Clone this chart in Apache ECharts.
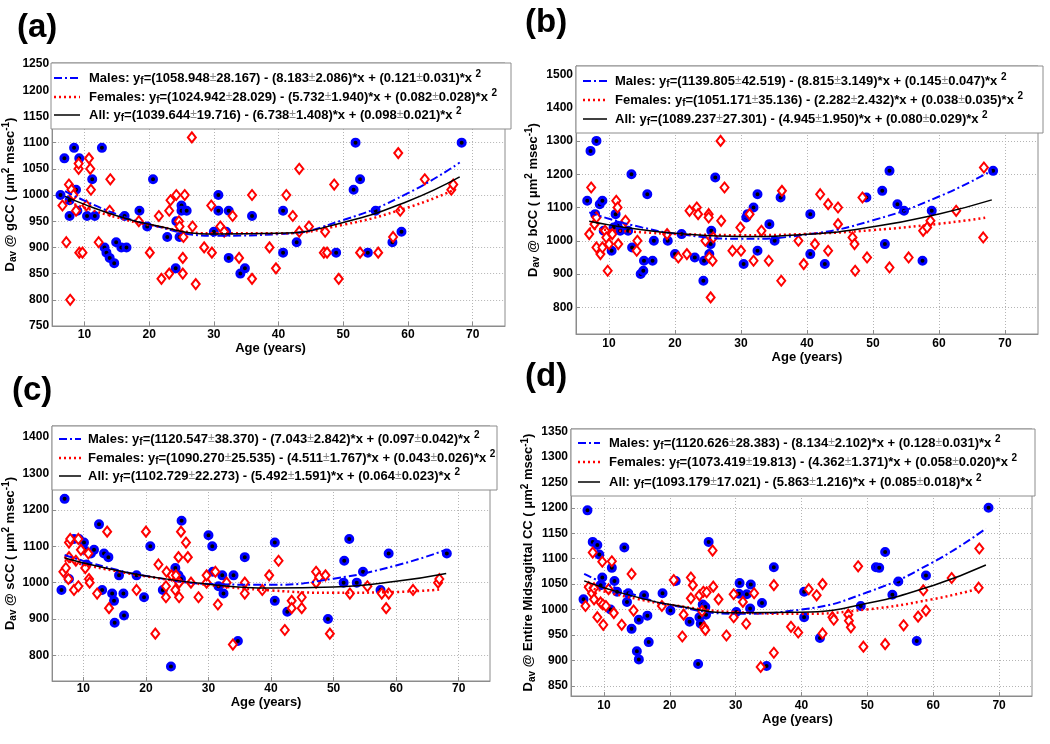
<!DOCTYPE html>
<html>
<head>
<meta charset="utf-8">
<script src="https://cdn.jsdelivr.net/npm/echarts@6/dist/echarts.min.js"></script>
<style>html,body{margin:0;background:#fff}#main{width:1050px;height:744px}</style>
</head>
<body>
<div id="main"></div>
<script>
// ages / diffusivity values, [age, Dav]
const gccMales = [[6.3,1000],[6.9,1070],[8.4,1090],[9.2,1070],[8.7,1010],[7.7,990],[7.7,960],[8.9,970],[10.4,960],[11.6,960],[11.2,1030],[12.7,1090],[13.1,900],[13.4,890],[13.9,880],[14.6,870],[14.9,910],[15.7,900],[16.5,900],[16.2,960],[18.5,970],[19.7,940],[20.6,1030],[22.8,920],[24.1,860],[24.2,950],[25.0,980],[25.0,970],[25.8,970],[24.7,920],[30.0,930],[30.7,1000],[30.7,970],[31.9,930],[32.3,880],[32.3,970],[34.1,850],[34.8,860],[35.9,960],[40.7,970],[40.7,890],[42.8,910],[51.9,1100],[51.6,1010],[52.6,1030],[48.9,890],[53.8,890],[55.0,970],[57.6,910],[59.0,930],[68.3,1100]];
const gccFemales = [[6.6,980],[7.2,910],[7.6,1020],[8.0,1010],[8.3,1000],[7.8,800],[8.7,970],[9.1,1050],[9.1,1060],[9.2,890],[9.7,890],[10.3,980],[10.7,1070],[10.9,1050],[11.0,1010],[12.2,910],[14.0,1030],[13.9,970],[18.4,950],[20.1,890],[21.5,960],[21.9,840],[23.1,850],[23.1,970],[23.3,990],[24.2,1000],[24.6,950],[24.7,940],[25.2,880],[25.2,850],[25.3,920],[25.5,1000],[26.6,1110],[26.7,940],[27.2,830],[28.5,900],[29.7,890],[29.6,980],[31.0,940],[31.6,930],[32.9,960],[33.9,880],[35.9,1000],[35.9,840],[38.6,900],[39.6,860],[41.2,1000],[42.2,960],[43.2,1050],[43.2,930],[44.7,940],[47.2,930],[47.0,890],[47.5,890],[48.6,1020],[49.3,840],[52.6,890],[55.4,890],[57.7,920],[58.5,1080],[58.8,970],[62.6,1030],[66.7,1010],[67.0,1020]];

const bccMales = [[6.7,1120],[7.2,1270],[8.1,1300],[7.9,1080],[8.6,1110],[9.0,1120],[9.2,1030],[10.4,970],[11.0,1080],[11.3,1045],[11.7,1030],[10.7,1040],[12.9,1030],[13.4,1200],[13.5,980],[14.8,900],[15.2,910],[15.3,940],[15.8,1140],[16.6,940],[16.8,1000],[18.9,1000],[21.0,1020],[20.0,960],[23.0,950],[24.3,880],[24.4,940],[25.2,960],[25.4,990],[25.5,1030],[26.1,1190],[30.4,930],[30.8,1070],[31.0,1080],[31.9,1100],[32.5,1140],[32.5,970],[34.3,1050],[35.1,1000],[36.0,1130],[40.5,1080],[40.5,960],[42.7,930],[49.0,1130],[51.4,1150],[52.5,1210],[51.8,990],[53.7,1110],[54.7,1090],[57.5,940],[58.9,1090],[68.2,1210]];
const bccFemales = [[7.3,1160],[7.0,1020],[7.8,1050],[8.1,1070],[8.1,980],[8.7,960],[9.0,980],[9.4,1030],[9.8,910],[9.6,1010],[10.0,990],[10.5,1020],[11.1,1120],[11.3,1100],[11.4,990],[12.5,1060],[14.3,1000],[14.2,970],[18.8,1020],[20.5,950],[21.8,960],[22.2,1090],[23.3,1100],[23.5,1080],[25.1,1080],[25.1,1070],[24.6,1000],[25.2,950],[25.7,940],[25.4,830],[25.8,1010],[26.9,1300],[27.0,1060],[27.5,1160],[28.7,970],[30.0,970],[29.9,1040],[31.3,1080],[31.9,940],[33.1,1030],[34.2,940],[36.2,1150],[36.1,880],[38.7,1000],[39.5,930],[41.2,990],[42.0,1140],[43.2,1110],[43.2,970],[44.7,1100],[44.7,1050],[46.9,1010],[47.2,990],[47.3,910],[48.4,1130],[49.1,950],[52.5,920],[55.4,950],[57.6,1030],[58.2,1040],[58.7,1060],[62.6,1090],[66.8,1220],[66.7,1010]];

const sccMales = [[6.5,980],[7.0,1230],[7.7,1010],[8.5,1120],[9.3,1120],[10.1,1110],[10.1,1090],[10.5,1050],[11.2,1080],[11.7,1090],[12.5,1160],[13.0,980],[13.3,1080],[14.0,1070],[14.6,970],[14.9,950],[15.0,890],[15.7,1020],[16.4,970],[16.5,910],[18.5,1020],[19.7,960],[20.7,1100],[22.7,980],[24.0,770],[24.7,1040],[25.2,1020],[25.6,1010],[25.7,1170],[30.0,1130],[30.6,1100],[30.7,1030],[31.6,990],[32.2,1020],[32.4,970],[34.0,1020],[34.7,840],[35.8,1070],[40.6,1110],[40.6,950],[42.6,920],[49.1,900],[51.6,1000],[51.7,1060],[52.5,1120],[53.7,1000],[54.7,1030],[57.5,980],[58.8,1080],[68.1,1080]];
const sccFemales = [[6.8,1030],[7.2,1040],[7.6,1010],[7.7,1070],[7.7,1110],[7.9,1120],[8.5,980],[8.8,1060],[9.2,1120],[9.2,990],[9.6,1090],[10.3,1040],[10.8,1080],[10.9,1010],[11.0,1000],[12.2,970],[13.8,1140],[14.1,930],[18.5,980],[20.0,1140],[21.5,860],[22.0,1050],[23.3,1030],[23.2,990],[23.2,960],[24.1,1020],[24.7,980],[24.8,1020],[25.2,1070],[25.3,1000],[25.6,1140],[25.3,960],[26.4,1110],[26.7,1070],[27.2,1000],[28.4,960],[29.7,1000],[29.7,1020],[31.1,1030],[31.5,940],[32.9,1000],[33.9,830],[35.8,1000],[35.8,970],[38.6,980],[39.7,1020],[41.2,1060],[42.2,870],[43.3,950],[43.3,930],[44.9,960],[44.9,930],[47.2,1030],[47.2,1000],[47.7,1015],[48.7,1020],[49.4,860],[52.6,970],[55.4,990],[57.7,970],[58.8,970],[58.4,930],[62.7,980],[66.7,1000],[66.9,1010]];

const midMales = [[6.9,1020],[7.5,1195],[8.3,1133],[9.0,1127],[9.3,1108],[9.5,1048],[9.75,1063],[11.0,1000],[11.2,1082],[11.6,1056],[12.0,1035],[13.1,1122],[13.5,1015],[13.7,1032],[14.2,962],[15.0,918],[15.3,902],[15.3,980],[16.1,1028],[16.6,988],[16.8,936],[18.9,1032],[20.1,998],[20.9,1056],[23.0,976],[24.3,893],[24.5,985],[24.7,972],[25.0,1010],[25.4,1005],[25.5,990],[25.9,1133],[30.1,995],[30.6,1052],[30.5,1031],[31.7,1030],[32.2,1002],[32.3,1049],[34.0,1013],[34.7,889],[35.8,1083],[40.4,1035],[40.4,985],[42.8,944],[49.0,1007],[51.3,1083],[51.8,1082],[52.7,1113],[54.7,1055],[53.8,1029],[57.5,938],[58.9,1067],[68.4,1200]];
const midFemales = [[7.2,1007],[7.7,1044],[8.2,1032],[8.3,1112],[8.5,1042],[8.5,1020],[9.0,985],[9.5,1014],[9.75,1094],[9.85,1010],[9.9,970],[10.3,1007],[10.7,1040],[11.2,1095],[11.5,993],[12.7,970],[14.2,1070],[14.5,998],[20.6,1058],[18.8,1007],[21.9,947],[22.1,990],[23.2,1063],[23.5,1048],[23.2,1022],[24.5,1028],[24.9,997],[25.1,1035],[25.2,965],[25.4,960],[25.6,1034],[26.5,1116],[26.6,1045],[27.4,1020],[28.6,949],[29.7,1030],[29.7,985],[31.1,1015],[31.6,972],[32.8,1032],[33.8,887],[35.8,1048],[35.8,915],[38.4,966],[39.5,955],[41.1,1040],[42.3,1028],[43.2,1050],[43.2,953],[44.7,985],[44.9,980],[47.1,990],[47.2,978],[47.5,965],[48.6,1085],[49.4,927],[52.7,932],[55.5,969],[57.7,986],[58.5,1038],[58.9,998],[62.8,1062],[66.9,1043],[67.0,1120]];

// fitted curves, values
const fitAgeM = [7, 10, 15, 20, 30, 40, 50, 60, 68];
const fitAgeF = [7, 10, 15, 20, 30, 40, 50, 60, 67];
const gccFitM = [1007.6, 989.2, 963.4, 943.7, 922.4, 925.2, 952.3, 1003.6, 1062.0];
const gccFitF = [988.8, 975.8, 957.4, 943.1, 926.8, 926.9, 943.3, 976.2, 1009.0];
const gccFitA = [997.3, 982.1, 960.6, 944.1, 925.7, 926.9, 947.7, 988.2, 1034.6];
const bccFitM = [1085.2, 1066.2, 1040.2, 1021.5, 1005.9, 1019.2, 1061.6, 1132.9, 1210.9];
const bccFitF = [1037.1, 1032.2, 1025.5, 1020.7, 1016.9, 1020.7, 1032.1, 1051.1, 1068.9];
const bccFitA = [1058.5, 1047.8, 1033.1, 1022.3, 1012.9, 1019.4, 1042.0, 1080.5, 1122.9];
const sccFitM = [1076.0, 1059.8, 1036.7, 1018.5, 996.6, 994.0, 1010.9, 1047.2, 1090.2];
const sccFitF = [1060.8, 1049.5, 1032.3, 1017.3, 993.6, 978.6, 972.2, 974.4, 981.1];
const sccFitA = [1067.4, 1054.2, 1034.7, 1018.5, 995.6, 985.4, 988.1, 1003.6, 1025.2];
const midFitM = [1070.0, 1052.1, 1027.4, 1009.1, 991.8, 1000.1, 1033.9, 1093.4, 1159.4];
const midFitF = [1045.7, 1035.6, 1021.0, 1009.4, 994.8, 991.7, 1000.3, 1020.5, 1041.5];
const midFitA = [1056.3, 1043.0, 1024.4, 1009.9, 993.8, 994.7, 1012.5, 1047.4, 1087.5];

// legend equations: a, ±, b, ±, c, ±
const gccEq = [['1058.948','28.167','8.183','2.086','0.121','0.031'], ['1024.942','28.029','5.732','1.940','0.082','0.028'], ['1039.644','19.716','6.738','1.408','0.098','0.021']];
const bccEq = [['1139.805','42.519','8.815','3.149','0.145','0.047'], ['1051.171','35.136','2.282','2.432','0.038','0.035'], ['1089.237','27.301','4.945','1.950','0.080','0.029']];
const sccEq = [['1120.547','38.370','7.043','2.842','0.097','0.042'], ['1090.270','25.535','4.511','1.767','0.043','0.026'], ['1102.729','22.273','5.492','1.591','0.064','0.023']];
const midEq = [['1120.626','28.383','8.134','2.102','0.128','0.031'], ['1073.419','19.813','4.362','1.371','0.058','0.020'], ['1093.179','17.021','5.863','1.216','0.085','0.018']];

const xTicks = [10, 20, 30, 40, 50, 60, 70];
const gccTicks = [750, 800, 850, 900, 950, 1000, 1050, 1100, 1150, 1200, 1250];
const bccTicks = [800, 900, 1000, 1100, 1200, 1300, 1400, 1500];
const sccTicks = [800, 900, 1000, 1100, 1200, 1300, 1400];
const midTicks = [850, 900, 950, 1000, 1050, 1100, 1150, 1200, 1250, 1300, 1350];

const FF = '"Liberation Sans", Arial, sans-serif';
const AX = '#8c8c8c';

const panels = [
  {tag: '(a)', tagX: 17, tagY: 28, region: 'gCC', grid: {left: 51, top: 63, width: 454, height: 263},
   yMin: 750, yMax: 1252, yTicks: gccTicks, males: gccMales, females: gccFemales,
   fit: [gccFitM, gccFitF, gccFitA], eq: gccEq,
   box: {x: 51, y: 63, w: 460, h: 66}, sw: [54, 80], tx: 89, rows: [78, 97, 115],
   xLab: 3, xGap: 13, xPad: 16, yGap: 30},
  {tag: '(b)', tagX: 525, tagY: 23, region: 'bCC', grid: {left: 576, top: 66, width: 462, height: 268},
   yMin: 720, yMax: 1525, yTicks: bccTicks, males: bccMales, females: bccFemales,
   fit: [bccFitM, bccFitF, bccFitA], eq: bccEq,
   box: {x: 576, y: 66, w: 467, h: 67}, sw: [583, 607], tx: 615, rows: [81, 100, 119],
   xLab: 4, xGap: 16, xPad: 0, yGap: 34},
  {tag: '(c)', tagX: 12, tagY: 391, region: 'sCC', grid: {left: 52, top: 426, width: 438, height: 255},
   yMin: 730, yMax: 1430, yTicks: sccTicks, males: sccMales, females: sccFemales,
   fit: [sccFitM, sccFitF, sccFitA], eq: sccEq,
   box: {x: 52, y: 426, w: 445, h: 64}, sw: [59, 81], tx: 88, rows: [439, 458, 476],
   xLab: 2, xGap: 14, xPad: 10, yGap: 31},
  {tag: '(d)', tagX: 525, tagY: 377, region: 'Entire Midsagittal CC', grid: {left: 571, top: 429, width: 461, height: 267},
   yMin: 830, yMax: 1355, yTicks: midTicks, males: midMales, females: midFemales,
   fit: [midFitM, midFitF, midFitA], eq: midEq,
   box: {x: 571, y: 429, w: 464, h: 67}, sw: [578, 600], tx: 609, rows: [443, 462, 482],
   xLab: 4, xGap: 12, xPad: 8, yGap: 30}
];

const fitStyles = [
  {color: '#0000ff', width: 2, type: [8, 3, 2, 3]},
  {color: '#ff0000', width: 2.5, type: [2, 3]},
  {color: '#000000', width: 1.5, type: 'solid'}
];
const fitNames = ['Males', 'Females', 'All'];

const richText = {
  b: {fontSize: 13, fontWeight: 'bold', fontFamily: FF, color: '#000', fill: '#000'},
  s: {fontSize: 10, fontWeight: 'bold', fontFamily: FF, color: '#000', fill: '#000', padding: [7, 0, 0, 0]},
  p: {fontSize: 10, fontWeight: 'bold', fontFamily: FF, color: '#000', fill: '#000', padding: [0, 0, 8, 0]},
  pm: {fontSize: 12, fontFamily: FF, color: '#888', fill: '#888'}
};

function eqText(name, e) {
  return '{b|' + name + ': y}{s|f}{b|=(' + e[0] + '}{pm|±}{b|' + e[1] + ') - (' + e[2] + '}{pm|±}{b|' + e[3] +
    ')*x + (' + e[4] + '}{pm|±}{b|' + e[5] + ')*x }{p|2}';
}

const plainNum = function (v) { return String(v); };
const grids = [], xAxes = [], yAxes = [], series = [], graphics = [];

panels.forEach(function (p, i) {
  grids.push(Object.assign({show: true, borderColor: AX, borderWidth: 1}, p.grid));
  xAxes.push({
    gridIndex: i, type: 'value', min: 5, max: 75,
    name: 'Age (years)', nameLocation: 'middle', nameGap: p.xGap,
    nameTextStyle: {fontSize: 13, fontWeight: 'bold', color: '#000', fontFamily: FF, padding: [0, p.xPad, 0, 0]},
    axisLine: {onZero: false, lineStyle: {color: AX}},
    axisTick: {inside: true, length: 4, customValues: xTicks, lineStyle: {color: AX}},
    axisLabel: {customValues: xTicks, formatter: plainNum, margin: p.xLab, fontSize: 12, fontWeight: 'bold', color: '#000', fontFamily: FF},
    splitLine: {show: true, lineStyle: {color: '#b4b4b4', type: [1, 2]}}
  });
  yAxes.push({
    gridIndex: i, type: 'value', min: p.yMin, max: p.yMax,
    name: '{b|D}{s|av}{b| @ ' + p.region + ' ( μm}{p|2}{b| msec}{p|-1}{b|)}',
    nameLocation: 'middle', nameGap: p.yGap,
    nameTextStyle: {rich: richText},
    axisLine: {lineStyle: {color: AX}},
    axisTick: {inside: true, length: 4, customValues: p.yTicks, lineStyle: {color: AX}},
    axisLabel: {customValues: p.yTicks, formatter: plainNum, margin: 3, fontSize: 12, fontWeight: 'bold', color: '#000', fontFamily: FF},
    splitLine: {show: true, lineStyle: {color: '#b4b4b4', type: [1, 2]}}
  });
  series.push({
    type: 'scatter', xAxisIndex: i, yAxisIndex: i, data: p.males, symbol: 'circle', symbolSize: 7,
    itemStyle: {color: '#000', borderColor: '#0000ff', borderWidth: 3, opacity: 1}, z: 2
  });
  series.push({
    type: 'scatter', xAxisIndex: i, yAxisIndex: i, data: p.females, symbol: 'diamond', symbolSize: [8, 10],
    itemStyle: {color: '#fff', borderColor: '#ff0000', borderWidth: 2, opacity: 1}, z: 2
  });
  p.fit.forEach(function (vals, k) {
    const ages = k === 1 ? fitAgeF : fitAgeM;
    series.push({
      type: 'line', xAxisIndex: i, yAxisIndex: i, smooth: true, showSymbol: false, symbol: 'none',
      data: ages.map(function (a, j) { return [a, vals[j]]; }),
      lineStyle: fitStyles[k], z: 3
    });
  });

  // legend box
  graphics.push({type: 'rect', shape: {x: p.box.x, y: p.box.y, width: p.box.w, height: p.box.h},
    style: {fill: '#fff', stroke: AX, lineWidth: 1}, z: 100});
  p.eq.forEach(function (e, k) {
    const st = fitStyles[k];
    graphics.push({type: 'line', shape: {x1: p.sw[0], y1: p.rows[k], x2: p.sw[1], y2: p.rows[k]},
      style: {stroke: st.color, lineWidth: st.width, lineDash: st.type === 'solid' ? null : st.type}, z: 101});
    graphics.push({type: 'text', x: p.tx, y: p.rows[k],
      style: {text: eqText(fitNames[k], e), rich: richText, verticalAlign: 'middle', align: 'left'}, z: 101});
  });
  graphics.push({type: 'text', x: p.tagX, y: p.tagY,
    style: {text: p.tag, fontSize: 33, fontWeight: 'bold', fontFamily: FF, fill: '#000', verticalAlign: 'middle'}, z: 101});
});

const chart = echarts.init(document.getElementById('main'));
chart.setOption({
  animation: false,
  backgroundColor: '#fff',
  grid: grids,
  xAxis: xAxes,
  yAxis: yAxes,
  series: series,
  graphic: graphics
});
</script>
</body>
</html>
